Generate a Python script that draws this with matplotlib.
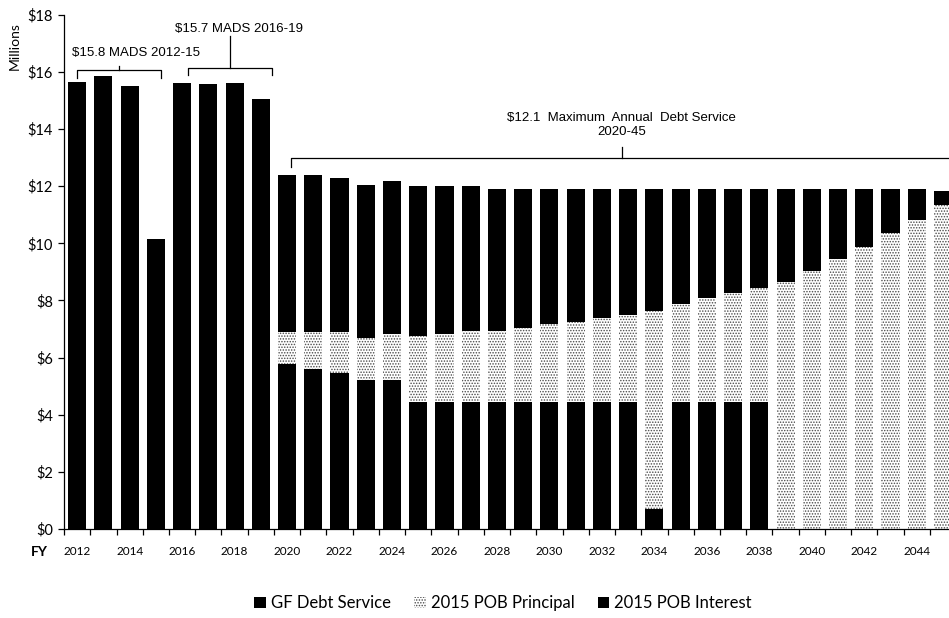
import numpy as np
import matplotlib
matplotlib.use("Agg")
import matplotlib.pyplot as plt
from matplotlib.patches import Patch

""" Data (millions of dollars) """

years = list(range(2012, 2046))

gf_debt_service = [15.66, 15.85, 15.50, 10.15, 15.62, 15.58, 15.62, 15.05,
                   5.77, 5.59, 5.47, 5.21, 5.21, 4.46, 4.46, 4.46, 4.46,
                   4.46, 4.46, 4.46, 4.46, 4.46, 0.70, 4.46, 4.46, 4.46,
                   4.46, 0, 0, 0, 0, 0, 0, 0]

pob_principal = [0, 0, 0, 0, 0, 0, 0, 0,
                 1.13, 1.31, 1.43, 1.46, 1.61, 2.30, 2.38, 2.47, 2.47,
                 2.58, 2.70, 2.78, 2.91, 3.02, 6.92, 3.43, 3.64, 3.80,
                 3.98, 8.63, 9.02, 9.44, 9.87, 10.36, 10.83, 11.35]

pob_interest = [0, 0, 0, 0, 0, 0, 0, 0,
                5.51, 5.48, 5.40, 5.38, 5.35, 5.26, 5.18, 5.09, 4.97,
                4.86, 4.74, 4.66, 4.53, 4.42, 4.28, 4.01, 3.80, 3.64,
                3.46, 3.27, 2.88, 2.46, 2.03, 1.54, 1.07, 0.50]

series_names = ["GF Debt Service", "2015 POB Principal", "2015 POB Interest"]
y_ticks = list(range(0, 19, 2))
y_tick_labels = [f"${v}" for v in y_ticks]

""" Style """

plt.rcParams["font.family"] = ["Lato", "DejaVu Sans"]
plt.rcParams["hatch.linewidth"] = 0.7
narrow = ["Liberation Sans Narrow", "Liberation Sans", "DejaVu Sans"]
bar_width = 0.69
stipple = dict(facecolor="white", edgecolor="#4a4a4a", hatch="......", linewidth=0)


def bracket(ax, x0, x1, y, drop, xmid, rise):
    """ Draw an annotation bracket in data coordinates. """
    ax.plot([x0, x0, x1, x1], [y - drop, y, y, y - drop], color="black",
            lw=0.9, clip_on=False, solid_joinstyle="round")
    ax.plot([xmid, xmid], [y, y + rise], color="black", lw=0.9, clip_on=False)


""" Plot """

fig = plt.figure(figsize=(9.49, 6.18), dpi=100)
ax = fig.add_axes([0.0675, 0.144, 0.94, 0.832])

x = np.array(years)
gf = np.array(gf_debt_service)
pr = np.array(pob_principal)
it = np.array(pob_interest)

ax.bar(x, gf, width=bar_width, color="black", linewidth=0)
ax.bar(x, pr, width=bar_width, bottom=gf, **stipple)
ax.bar(x, it, width=bar_width, bottom=gf + pr, color="black", linewidth=0)

ax.set_xlim(years[0] - 0.5, years[-1] + 0.5)
ax.set_ylim(0, 18)

for side in ["top", "right"]:
    ax.spines[side].set_visible(False)
ax.spines["left"].set_linewidth(0.9)
ax.spines["bottom"].set_linewidth(0.9)

ax.set_yticks(y_ticks)
ax.set_yticklabels(y_tick_labels, fontsize=10.5)
ax.tick_params(axis="y", direction="out", length=4, width=0.9, pad=4)

ax.set_xticks(years[::2])
ax.set_xticklabels([str(y) for y in years[::2]], fontsize=8.5)
ax.set_xticks([y - 0.5 for y in years], minor=True)
ax.tick_params(axis="x", which="major", length=0, pad=12)
ax.tick_params(axis="x", which="minor", direction="out", length=4, width=0.9)

fig.text(0.042, 0.107, "FY", fontsize=10, fontweight="bold", ha="center", va="center")
fig.text(0.016, 0.925, "Millions", fontsize=10, rotation=90, ha="center", va="center")

# Brackets for the maximum annual debt service periods
bracket(ax, 2012.0, 2015.2, 16.08, 0.28, 2013.6, 0.14)
ax.text(2014.25, 16.68, "$15.8 MADS 2012-15", fontsize=9.5, family=narrow,
        ha="center", va="center")

bracket(ax, 2016.23, 2019.43, 16.15, 0.25, 2017.83, 1.12)
ax.text(2018.17, 17.52, "$15.7 MADS 2016-19", fontsize=9.5, family=narrow,
        ha="center", va="center")

bracket(ax, 2020.15, 2046.5, 13.0, 0.34, 2032.76, 0.36)
ax.text(2032.76, 14.15, "$12.1  Maximum  Annual  Debt Service\n2020-45",
        fontsize=9.5, family=narrow, ha="center", va="center", linespacing=1.25)

handles = [Patch(facecolor="black", edgecolor="black", linewidth=0),
           Patch(**stipple),
           Patch(facecolor="black", edgecolor="black", linewidth=0)]
fig.legend(handles, series_names, loc="center", bbox_to_anchor=(0.53, 0.024),
           ncol=3, frameon=False, fontsize=12, handlelength=0.7,
           handleheight=0.7, handletextpad=0.3, columnspacing=1.4)

fig.savefig("out.png", dpi=100)
